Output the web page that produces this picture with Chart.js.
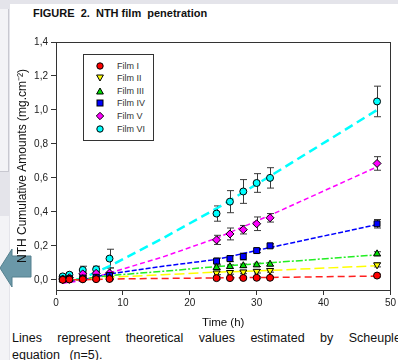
<!DOCTYPE html>
<html>
<head>
<meta charset="utf-8">
<script src="https://cdn.jsdelivr.net/npm/chart.js@4.4.0/dist/chart.umd.min.js"></script>
<style>
  html, body { margin: 0; padding: 0; }
  body { width: 398px; height: 360px; overflow: hidden; background: #e4e4ea; position: relative; font-family: Arial, "Liberation Sans", sans-serif; }
  #page { position: absolute; left: 10px; top: 4px; width: 400px; height: 360px; background: #fff; }
  #sidePanel { position: absolute; left: 0; top: 9px; width: 8px; height: 162px; background: #f3f3f6; border-right: 1px solid #c8c8d0; border-bottom: 1px solid #c8c8d0; }
  #sideLow { position: absolute; left: 0; top: 216px; width: 9px; height: 150px; background: #f3f3f6; }
  #arrow { position: absolute; left: 0; top: 246px; }
  #title { position: absolute; left: 33px; top: 7px; font-size: 11px; font-weight: bold; color: #111; white-space: pre; }
  #wrap { position: absolute; left: 0; top: 0; width: 398px; height: 330px; }
  #legend { position: absolute; left: 83px; top: 54px; width: 69px; height: 85px; border: 1px solid #333; background: #fff; }
  .row { position: absolute; left: 0; height: 12px; width: 69px; font-size: 9px; font-weight: normal; color: #333; line-height: 12px; }
  .row svg { position: absolute; left: 12px; top: 2px; }
  .row span { position: absolute; left: 33px; top: 0; }
  #caption { position: absolute; left: 12px; top: 330px; width: 420px; font-size: 12.5px; line-height: 17px; color: #111; white-space: nowrap; word-spacing: 12px; }
  #caption span { word-spacing: 6px; }
</style>
</head>
<body>
<div id="page"></div>
<div id="sidePanel"></div>
<div id="sideLow"></div>
<svg id="arrow" width="32" height="44" viewBox="0 0 32 44">
  <polygon points="0,22 12,3 12,10 31,10 31,31 12,31 12,41" fill="#6b98a8" stroke="#55808f" stroke-width="1"/>
</svg>
<div id="title">FIGURE  2.  NTH film  penetration</div>
<div id="wrap"><canvas id="chart" width="398" height="330"></canvas></div>
<div id="legend"></div>
<div id="caption">Lines represent theoretical values estimated by Scheupler<br><span>equation (n=5).</span></div>

<script>
// sampling times (h)
const times = [1, 2, 4, 6, 8, 24, 26, 28, 30, 32, 48];

// measured cumulative amounts (mg.cm-2) and SD
const film1 = [0.000, 0.002, 0.003, 0.004, 0.005, 0.010, 0.010, 0.011, 0.012, 0.012, 0.025];
const film1Err = [0.004, 0.004, 0.004, 0.004, 0.005, 0.006, 0.006, 0.006, 0.006, 0.006, 0.008];
const film2 = [0.001, 0.003, 0.005, 0.006, 0.008, 0.040, 0.043, 0.046, 0.050, 0.055, 0.088];
const film2Err = [0.004, 0.004, 0.005, 0.005, 0.006, 0.010, 0.010, 0.010, 0.010, 0.010, 0.012];
const film3 = [0.002, 0.004, 0.007, 0.009, 0.012, 0.072, 0.078, 0.083, 0.088, 0.092, 0.153];
const film3Err = [0.004, 0.004, 0.005, 0.005, 0.008, 0.010, 0.010, 0.010, 0.010, 0.010, 0.012];
const film4 = [0.003, 0.006, 0.010, 0.015, 0.025, 0.110, 0.125, 0.137, 0.172, 0.200, 0.330];
const film4Err = [0.005, 0.005, 0.008, 0.008, 0.015, 0.018, 0.018, 0.020, 0.012, 0.012, 0.025];
const film5 = [0.005, 0.012, 0.035, 0.038, 0.040, 0.235, 0.270, 0.295, 0.330, 0.365, 0.685];
const film5Err = [0.006, 0.006, 0.010, 0.010, 0.030, 0.027, 0.035, 0.025, 0.040, 0.025, 0.040];
const film6 = [0.020, 0.030, 0.058, 0.062, 0.125, 0.390, 0.460, 0.520, 0.570, 0.600, 1.050];
const film6Err = [0.012, 0.012, 0.022, 0.018, 0.055, 0.045, 0.065, 0.070, 0.055, 0.060, 0.090];

// theoretical curves (Scheuplein)
const lineTimes = [1, 4, 8, 16, 24, 32, 48];
const theory1 = [0.000, 0.000, 0.005, 0.008, 0.011, 0.014, 0.022];
const theory2 = [-0.005, 0.000, 0.015, 0.030, 0.045, 0.055, 0.083];
const theory3 = [-0.005, 0.005, 0.025, 0.050, 0.078, 0.100, 0.147];
const theory4 = [-0.010, 0.000, 0.035, 0.080, 0.120, 0.190, 0.325];
const theory5 = [-0.020, -0.005, 0.040, 0.135, 0.245, 0.380, 0.665];
const theory6 = [-0.015, 0.010, 0.080, 0.245, 0.420, 0.610, 1.000];

const yTicks = [0, 0.2, 0.4, 0.6, 0.8, 1.0, 1.2, 1.4];
const xTicks = [0, 10, 20, 30, 40, 50];

const films = [
    { name: 'Film I',   y: film1, err: film1Err, theory: theory1, color: '#ff0000', line: '#ff2020', style: 'circle',   rot: 0,   r: 3.5, dash: [7, 4],        lw: 1.5 },
    { name: 'Film II',  y: film2, err: film2Err, theory: theory2, color: '#ffff00', line: '#ffff00', style: 'triangle', rot: 180, r: 4,   dash: [10, 4],       lw: 1.5 },
    { name: 'Film III', y: film3, err: film3Err, theory: theory3, color: '#00e000', line: '#22ee22', style: 'triangle', rot: 0,   r: 4,   dash: [7, 2, 2, 2],  lw: 1.5 },
    { name: 'Film IV',  y: film4, err: film4Err, theory: theory4, color: '#0000ff', line: '#0000ff', style: 'rect',     rot: 0,   r: 4.2, dash: [5, 2],        lw: 1.5 },
    { name: 'Film V',   y: film5, err: film5Err, theory: theory5, color: '#ff00ff', line: '#ff00ff', style: 'rectRot',  rot: 0,   r: 4,   dash: [5, 3],        lw: 1.5 },
    { name: 'Film VI',  y: film6, err: film6Err, theory: theory6, color: '#00ffff', line: '#00ffff', style: 'circle',   rot: 0,   r: 3.5, dash: [9, 5],        lw: 2.5 }
];

const datasets = [];
films.forEach(f => {
    datasets.push({
        label: f.name + ' theory',
        data: lineTimes.map((t, i) => ({ x: t, y: f.theory[i] })),
        showLine: true,
        borderColor: f.line,
        borderWidth: f.lw,
        borderDash: f.dash,
        pointRadius: 0,
        fill: false,
        order: 2
    });
});
films.forEach(f => {
    datasets.push({
        label: f.name,
        data: times.map((t, i) => ({ x: t, y: f.y[i] })),
        errors: f.err,
        showLine: false,
        pointStyle: f.style,
        rotation: f.rot,
        pointRadius: f.r,
        backgroundColor: f.color,
        borderColor: '#000',
        borderWidth: 1,
        order: 1
    });
});

// error bars drawn through the chart scales
const errorBars = {
    id: 'errorBars',
    beforeDatasetsDraw(chart) {
        const ctx = chart.ctx;
        const xs = chart.scales.x, ys = chart.scales.y;
        ctx.save();
        ctx.strokeStyle = '#3a3a3a';
        ctx.lineWidth = 1;
        chart.data.datasets.forEach(ds => {
            if (!ds.errors) return;
            ds.data.forEach((p, i) => {
                const e = ds.errors[i];
                const px = Math.round(xs.getPixelForValue(p.x)) + 0.5;
                const top = ys.getPixelForValue(p.y + e);
                const bot = ys.getPixelForValue(p.y - e);
                ctx.beginPath();
                ctx.moveTo(px, top); ctx.lineTo(px, bot);
                ctx.moveTo(px - 3.5, top); ctx.lineTo(px + 3.5, top);
                ctx.moveTo(px - 3.5, bot); ctx.lineTo(px + 3.5, bot);
                ctx.stroke();
            });
        });
        ctx.restore();
    }
};

// full box round the plot
const frame = {
    id: 'frame',
    afterDraw(chart) {
        const a = chart.chartArea;
        const ctx = chart.ctx;
        ctx.save();
        ctx.strokeStyle = '#333';
        ctx.lineWidth = 1;
        ctx.strokeRect(Math.round(a.left) + 0.5, Math.round(a.top) + 0.5, Math.round(a.right - a.left), Math.round(a.bottom - a.top));
        ctx.restore();
    }
};

const font = "Arial, 'Liberation Sans', sans-serif";

new Chart(document.getElementById('chart'), {
    type: 'scatter',
    data: { datasets: datasets },
    plugins: [errorBars, frame],
    options: {
        responsive: false,
        animation: false,
        layout: { padding: { top: 42, right: 6, left: 0, bottom: 0 } },
        plugins: {
            legend: { display: false },
            tooltip: { enabled: false }
        },
        scales: {
            x: {
                type: 'linear',
                min: 0,
                max: 50,
                afterBuildTicks: s => { s.ticks = xTicks.map(v => ({ value: v })); },
                afterFit: s => { s.height = 40; },
                ticks: { color: '#222', font: { family: font, size: 10 }, padding: 2, maxRotation: 0 },
                grid: { drawOnChartArea: false, drawTicks: true, tickLength: 5, color: '#333' },
                border: { color: '#333' },
                title: { display: true, text: 'Time (h)', color: '#111', font: { family: font, size: 11.5 }, padding: { top: 2, bottom: 0 } }
            },
            y: {
                min: -0.06,
                max: 1.4,
                afterBuildTicks: s => { s.ticks = yTicks.map(v => ({ value: v })); },
                afterFit: s => { s.width = 56; },
                ticks: {
                    color: '#222',
                    font: { family: font, size: 10 },
                    padding: 3,
                    callback: v => v.toFixed(1).replace('.', ',')
                },
                grid: { drawOnChartArea: false, drawTicks: true, tickLength: 5, color: '#333' },
                border: { color: '#333' },
                title: { display: true, text: 'NTH Cumulative Amounts (mg.cm\u207B\u00B2)', color: '#111', font: { family: font, size: 12 }, padding: { top: 15, bottom: 0 } }
            }
        }
    }
});

// legend box inside the plot
const markerSvg = {
    circle: c => `<circle cx="4" cy="4" r="3.2" fill="${c}" stroke="#000" stroke-width="1"/>`,
    down: c => `<polygon points="0.6,1 7.4,1 4,7" fill="${c}" stroke="#000" stroke-width="1"/>`,
    up: c => `<polygon points="0.6,7 7.4,7 4,1" fill="${c}" stroke="#000" stroke-width="1"/>`,
    rect: c => `<rect x="1" y="1" width="6" height="6" fill="${c}" stroke="#000" stroke-width="1"/>`,
    diamond: c => `<polygon points="4,0.3 7.7,4 4,7.7 0.3,4" fill="${c}" stroke="#000" stroke-width="1"/>`
};
const legendKinds = ['circle', 'down', 'up', 'rect', 'diamond', 'circle'];
const legend = document.getElementById('legend');
films.forEach((f, i) => {
    const row = document.createElement('div');
    row.className = 'row';
    row.style.top = (4.5 + i * 12.6) + 'px';
    row.innerHTML = `<svg width="8" height="8">${markerSvg[legendKinds[i]](f.color)}</svg><span>${f.name}</span>`;
    legend.appendChild(row);
});
</script>
</body>
</html>
